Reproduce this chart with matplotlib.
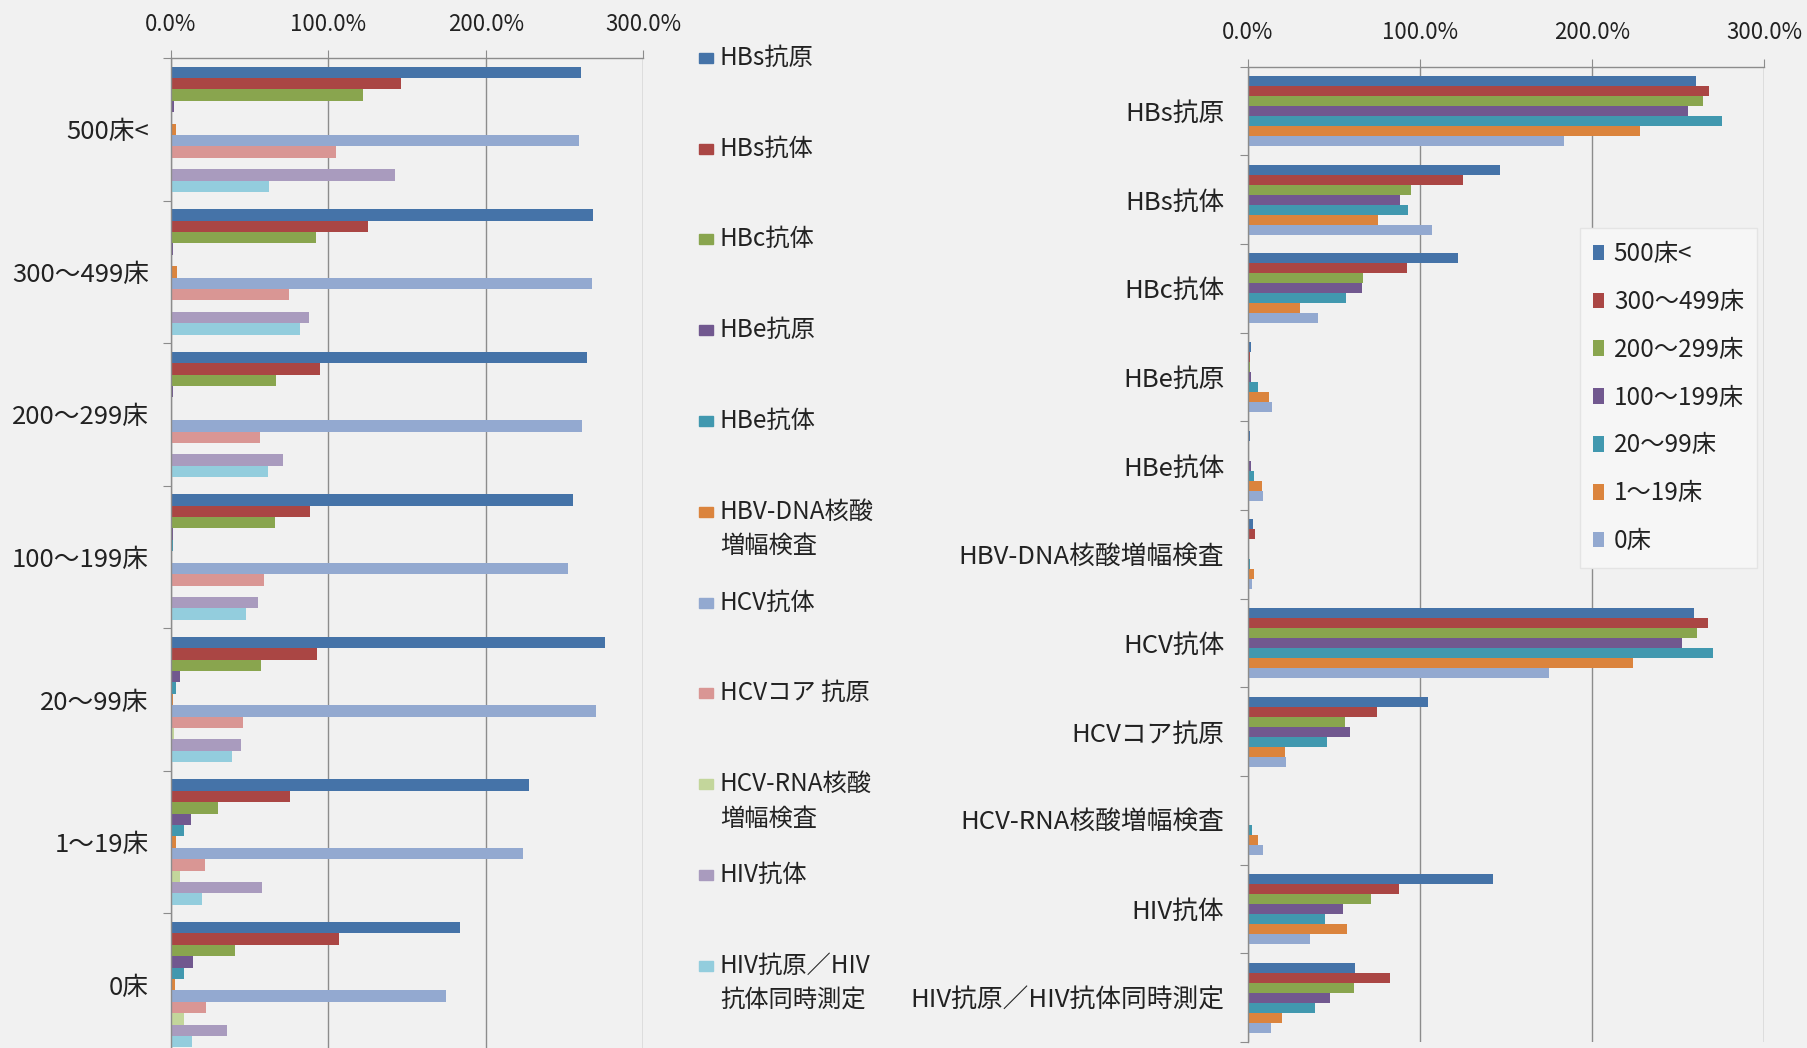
import numpy as np
import matplotlib.pyplot as plt
from matplotlib.patches import Rectangle
from matplotlib.ticker import FuncFormatter

plt.rcParams['font.family'] = ['Noto Sans CJK JP', 'DejaVu Sans']

# bed-size classes and tests
beds = ['500床<', '300～499床', '200～299床', '100～199床', '20～99床', '1～19床', '0床']
tests = ['HBs抗原', 'HBs抗体', 'HBc抗体', 'HBe抗原', 'HBe抗体', 'HBV-DNA核酸増幅検査',
         'HCV抗体', 'HCVコア抗原', 'HCV-RNA核酸増幅検査', 'HIV抗体', 'HIV抗原／HIV抗体同時測定']
legend_tests = ['HBs抗原', 'HBs抗体', 'HBc抗体', 'HBe抗原', 'HBe抗体', 'HBV-DNA核酸\n増幅検査',
                'HCV抗体', 'HCVコア 抗原', 'HCV-RNA核酸\n増幅検査', 'HIV抗体', 'HIV抗原／HIV\n抗体同時測定']
xticks = [0, 100, 200, 300]

# rate (%) per test, one list per bed class
r500 = [260.6, 146.3, 122.0, 1.7, 0.9, 3.0, 259.2, 104.9, 0.3, 142.2, 62.4]
r300 = [268.0, 125.2, 92.2, 1.1, 0.8, 3.8, 267.7, 75.1, 0.3, 88.0, 82.3]
r200 = [264.3, 94.5, 66.8, 1.0, 0.8, 0.5, 261.0, 56.3, 0.3, 71.4, 61.8]
r100 = [255.8, 88.6, 66.0, 1.5, 1.5, 0.5, 252.1, 59.4, 0.2, 55.0, 47.4]
r20 = [275.8, 92.9, 57.2, 5.6, 3.4, 1.4, 270.2, 45.7, 2.2, 44.7, 38.9]
r1 = [227.7, 75.8, 30.0, 12.5, 8.2, 3.4, 224.0, 21.3, 5.7, 57.8, 19.8]
r0 = [184.0, 107.0, 40.9, 13.8, 8.5, 2.6, 175.0, 22.3, 8.5, 35.8, 13.2]

rates = np.array([r500, r300, r200, r100, r20, r1, r0])  # beds x tests

colors = ['#4573a8', '#aa4644', '#89a54e', '#71588f', '#4198af', '#db843d',
          '#93a9d0', '#d99694', '#c3d69b', '#a99bbe', '#93cddd']

bg = '#f1f1f1'
grid_c = '#8c8c8c'
txt_c = '#222222'

fig = plt.figure(figsize=(18.08, 10.48), dpi=100, facecolor=bg)
ax1 = fig.add_axes([171 / 1808, 1 - 1056 / 1048, 472 / 1808, 998 / 1048])
ax2 = fig.add_axes([1248 / 1808, 1 - 1042 / 1048, 516 / 1808, 975.3 / 1048])

pct = FuncFormatter(lambda v, p: f'{v:.1f}%')


def style(ax, n, labels, pad, ysize):
    ax.set_facecolor(bg)
    ax.set_xlim(0, 300)
    ax.set_ylim(n - 0.5, -0.5)
    ax.xaxis.tick_top()
    ax.set_xticks(xticks)
    ax.xaxis.set_major_formatter(pct)
    ax.tick_params(axis='x', length=6, color=grid_c, pad=10, labelsize=16,
                   labelcolor=txt_c)
    ax.grid(axis='x', color=grid_c, lw=1)
    ax.set_axisbelow(True)
    ax.set_yticks(np.arange(n + 1) - 0.5)
    ax.set_yticklabels([])
    ax.tick_params(axis='y', which='major', length=6, color=grid_c)
    ax.set_yticks(np.arange(n), minor=True)
    ax.set_yticklabels(labels, minor=True)
    ax.tick_params(axis='y', which='minor', length=0, pad=pad, labelsize=ysize,
                   labelcolor=txt_c)
    for s in ['right', 'bottom']:
        ax.spines[s].set_visible(False)
    for s in ['top', 'left']:
        ax.spines[s].set_color(grid_c)
        ax.spines[s].set_linewidth(1)


# left: grouped by bed class, one bar per test
n_beds, n_tests = rates.shape
h1 = 0.88 / n_tests
y1 = np.arange(n_beds)
for j in range(n_tests):
    ax1.barh(y1 + (j - (n_tests - 1) / 2) * h1, rates[:, j], height=h1,
             color=colors[j], edgecolor='none')
style(ax1, n_beds, beds, 16, 18.5)

# right: grouped by test, one bar per bed class
h2 = 0.79 / n_beds
y2 = np.arange(n_tests)
handles = []
for i in range(n_beds):
    b = ax2.barh(y2 + (i - (n_beds - 1) / 2) * h2, rates[i], height=h2,
                 color=colors[i], edgecolor='none')
    handles.append(b)
style(ax2, n_tests, tests, 17, 18.5)

leg = ax2.legend(handles, beds, loc='upper left', bbox_to_anchor=(0.643, 0.835),
                 borderaxespad=0, fontsize=17.5, labelspacing=0.9,
                 handlelength=0.45, handleheight=0.6, handletextpad=0.4,
                 borderpad=0.55, fancybox=False,
                 facecolor='#f6f6f6', edgecolor='#e4e4e4', framealpha=1)
for t in leg.get_texts():
    t.set_color(txt_c)

# legend for the left chart, placed to its right
W, H = 1808, 1048
for k, lab in enumerate(legend_tests):
    yc = 57.7 + k * 90.8
    fig.add_artist(Rectangle((699 / W, 1 - (yc + 5) / H), 14 / W, 10 / H,
                             transform=fig.transFigure, color=colors[k]))
    for m, line in enumerate(lab.split('\n')):
        fig.text(720 / W, 1 - (yc + m * 34.6) / H, line, fontsize=17.5,
                 color=txt_c, va='center', ha='left')

fig.savefig('out.png', dpi=100, facecolor=bg)
